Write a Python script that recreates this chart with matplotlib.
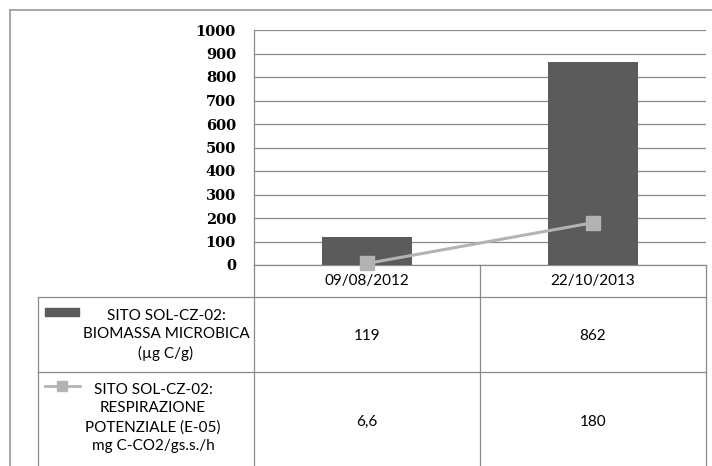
import numpy as np
import matplotlib.pyplot as plt
from matplotlib.lines import Line2D

# data
dates = ['09/08/2012', '22/10/2013']
biomassa = [119, 862]
respirazione = [6.6, 180]
respirazione_lbl = ['6,6', '180']
series_names = ['SITO SOL-CZ-02:\nBIOMASSA MICROBICA\n(µg C/g)',
                'SITO SOL-CZ-02:\nRESPIRAZIONE\nPOTENZIALE (E-05)\nmg C-CO2/gs.s./h']
yticks = list(range(0, 1001, 100))

bar_col = '#5b5b5b'
line_col = '#b3b3b3'
grid_col = '#8a8a8a'
txt_font = ['Lato', 'DejaVu Sans']
txt_size = 11

W, H = 712, 466
fig = plt.figure(figsize=(W / 100, H / 100), dpi=100)

# background layer in pixel coordinates for frame + table
bg = fig.add_axes([0, 0, 1, 1])
bg.set_xlim(0, W)
bg.set_ylim(H, 0)
bg.axis('off')

def px_line(x0, y0, x1, y1, c=grid_col, lw=0.9):
    bg.add_line(Line2D([x0, x1], [y0, y1], color=c, lw=lw))

# outer frame
px_line(10, 10, W, 10, c='#9a9a9a', lw=1.2)
px_line(10, 10, 10, H, c='#9a9a9a', lw=1.2)

# plot area
x_left, x_right, y_top, y_zero = 254, 706, 30, 265
ax = fig.add_axes([x_left / W, 1 - y_zero / H,
                   (x_right - x_left) / W, (y_zero - y_top) / H])
ax.patch.set_alpha(0)
x = np.arange(len(dates))
ax.bar(x, biomassa, width=0.4, color=bar_col, zorder=2)
ax.plot(x, respirazione, color=line_col, lw=2.2, marker='s', ms=10,
        mec=line_col, mfc=line_col, zorder=3, clip_on=False)
ax.set_xlim(-0.5, len(dates) - 0.5)
ax.set_ylim(0, 1000)
ax.set_yticks(yticks)
ax.set_yticklabels([str(t) for t in yticks], family='DejaVu Serif',
                   fontweight='bold', fontsize=10.5)
ax.tick_params(axis='y', length=0, pad=13)
ax.set_xticks([])
ax.yaxis.grid(True, color=grid_col, lw=0.9)
ax.set_axisbelow(True)
for s in ['top', 'right', 'bottom']:
    ax.spines[s].set_visible(False)
ax.spines['left'].set_color(grid_col)
ax.spines['left'].set_linewidth(0.9)

# data table
col_w = (x_right - x_left) / len(dates)
col_edges = [x_left + i * col_w for i in range(len(dates) + 1)]
tab_left = 38
row_y = [265, 297, 372, H]

px_line(x_left, row_y[0], x_right, row_y[0])
for yy in row_y[1:3]:
    px_line(tab_left, yy, x_right, yy)
px_line(tab_left, row_y[1], tab_left, H)
for xe in col_edges:
    px_line(xe, row_y[0], xe, H)

for i, d in enumerate(dates):
    cx = col_edges[i] + col_w / 2
    bg.text(cx, (row_y[0] + row_y[1]) / 2, d, ha='center', va='center',
            fontsize=txt_size, family=txt_font)
    bg.text(cx, 336, str(biomassa[i]), ha='center', va='center',
            fontsize=txt_size, family=txt_font)
    bg.text(cx, 422, respirazione_lbl[i], ha='center', va='center',
            fontsize=txt_size, family=txt_font)

# legend keys
bg.add_patch(plt.Rectangle((45, 308), 34, 8, color=bar_col))
bg.add_line(Line2D([45, 80], [386, 386], color=line_col, lw=2))
bg.add_line(Line2D([62], [386], marker='s', ms=7, color=line_col))

bg.text(166, 335, series_names[0], ha='center', va='center',
        fontsize=txt_size, family=txt_font, linespacing=1.42)
bg.text(153, 418, series_names[1], ha='center', va='center',
        fontsize=txt_size, family=txt_font, linespacing=1.42)

fig.savefig('out.png', dpi=100)
